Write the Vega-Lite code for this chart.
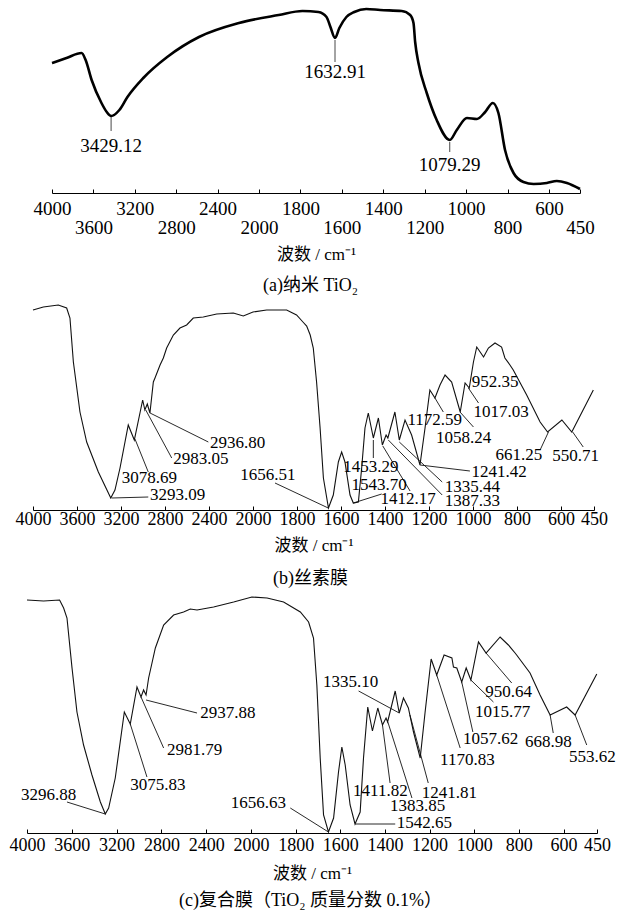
{
  "$schema": "https://vega.github.io/schema/vega-lite/v6.json",
  "padding": 0,
  "background": "white",
  "bounds": "flush",
  "spacing": 85,
  "config": {
    "view": {"stroke": null},
    "font": "Liberation Serif",
    "axis": {"grid": false, "domainColor": "black", "tickColor": "black", "labelColor": "black", "titleColor": "black", "labelFont": "Liberation Serif", "titleFont": "Liberation Serif, Noto Sans CJK SC", "titleFontWeight": "normal", "labelOverlap": false, "labelFlush": false, "tickSize": -4, "format": "d"},
    "title": {"font": "Liberation Serif, Noto Sans CJK SC", "fontWeight": "normal", "color": "black", "orient": "bottom", "anchor": "middle"}
  },
  "datasets": {
    "a_curve": [
      {"w": 4000, "t": 130}, {"w": 3860, "t": 135}, {"w": 3714, "t": 140}, {"w": 3675, "t": 133}, {"w": 3617, "t": 113}, {"w": 3522, "t": 90}, {"w": 3471, "t": 81}, {"w": 3429, "t": 77}, {"w": 3349, "t": 83}, {"w": 3271, "t": 96}, {"w": 3118, "t": 115}, {"w": 2887, "t": 136}, {"w": 2580, "t": 156}, {"w": 2194, "t": 170}, {"w": 1905, "t": 178}, {"w": 1790, "t": 182}, {"w": 1713, "t": 181}, {"w": 1674, "t": 176}, {"w": 1655, "t": 166}, {"w": 1633, "t": 155}, {"w": 1612, "t": 165}, {"w": 1578, "t": 176}, {"w": 1540, "t": 181}, {"w": 1482, "t": 184}, {"w": 1415, "t": 183}, {"w": 1311, "t": 182}, {"w": 1270, "t": 178}, {"w": 1254, "t": 170}, {"w": 1246, "t": 151}, {"w": 1230, "t": 130}, {"w": 1190, "t": 100}, {"w": 1142, "t": 73}, {"w": 1079, "t": 53}, {"w": 1045, "t": 63}, {"w": 996, "t": 75}, {"w": 948, "t": 74}, {"w": 908, "t": 81}, {"w": 871, "t": 90}, {"w": 844, "t": 80}, {"w": 812, "t": 43}, {"w": 771, "t": 20}, {"w": 723, "t": 11}, {"w": 674, "t": 9}, {"w": 610, "t": 10}, {"w": 562, "t": 12}, {"w": 513, "t": 10}, {"w": 450, "t": 4}
    ],
    "a_lines": [
      {"w1": 3429, "t1": 76, "w2": 3429, "t2": 62},
      {"w1": 1633, "t1": 153, "w2": 1633, "t2": 131},
      {"w1": 1079, "t1": 51, "w2": 1079, "t2": 41}
    ],
    "a_labels": [
      {"w": 3429, "t": 47, "label": "3429.12"},
      {"w": 1633, "t": 121, "label": "1632.91"},
      {"w": 1079, "t": 28, "label": "1079.29"}
    ],
    "b_curve": [
      {"w": 4000, "t": 200}, {"w": 3906, "t": 203}, {"w": 3770, "t": 205}, {"w": 3694, "t": 202}, {"w": 3664, "t": 192}, {"w": 3633, "t": 148}, {"w": 3573, "t": 98}, {"w": 3512, "t": 68}, {"w": 3406, "t": 38}, {"w": 3293, "t": 12}, {"w": 3255, "t": 20}, {"w": 3209, "t": 42}, {"w": 3134, "t": 85}, {"w": 3079, "t": 70}, {"w": 3003, "t": 110}, {"w": 2983, "t": 100}, {"w": 2961, "t": 106}, {"w": 2937, "t": 97}, {"w": 2906, "t": 128}, {"w": 2891, "t": 132}, {"w": 2845, "t": 145}, {"w": 2815, "t": 152}, {"w": 2785, "t": 162}, {"w": 2724, "t": 175}, {"w": 2664, "t": 182}, {"w": 2603, "t": 185}, {"w": 2543, "t": 192}, {"w": 2452, "t": 193}, {"w": 2330, "t": 196}, {"w": 2179, "t": 197}, {"w": 2088, "t": 194}, {"w": 2000, "t": 198}, {"w": 1938, "t": 200}, {"w": 1847, "t": 200}, {"w": 1802, "t": 195}, {"w": 1773, "t": 188}, {"w": 1756, "t": 184}, {"w": 1740, "t": 175}, {"w": 1726, "t": 162}, {"w": 1711, "t": 128}, {"w": 1695, "t": 82}, {"w": 1680, "t": 32}, {"w": 1657, "t": 2}, {"w": 1635, "t": 15}, {"w": 1612, "t": 48}, {"w": 1597, "t": 58}, {"w": 1582, "t": 48}, {"w": 1559, "t": 15}, {"w": 1544, "t": 7}, {"w": 1521, "t": 8}, {"w": 1506, "t": 42}, {"w": 1491, "t": 82}, {"w": 1476, "t": 97}, {"w": 1453, "t": 72}, {"w": 1430, "t": 92}, {"w": 1412, "t": 65}, {"w": 1395, "t": 75}, {"w": 1387, "t": 72}, {"w": 1355, "t": 98}, {"w": 1335, "t": 70}, {"w": 1309, "t": 90}, {"w": 1279, "t": 75}, {"w": 1241, "t": 45}, {"w": 1218, "t": 82}, {"w": 1196, "t": 120}, {"w": 1173, "t": 112}, {"w": 1150, "t": 125}, {"w": 1127, "t": 135}, {"w": 1097, "t": 128}, {"w": 1058, "t": 98}, {"w": 1036, "t": 127}, {"w": 1017, "t": 122}, {"w": 998, "t": 148}, {"w": 983, "t": 163}, {"w": 952, "t": 153}, {"w": 930, "t": 162}, {"w": 900, "t": 167}, {"w": 870, "t": 163}, {"w": 855, "t": 152}, {"w": 832, "t": 145}, {"w": 817, "t": 140}, {"w": 756, "t": 115}, {"w": 695, "t": 88}, {"w": 661, "t": 78}, {"w": 596, "t": 90}, {"w": 551, "t": 78}, {"w": 453, "t": 120}
    ],
    "b_lines": [
      {"w1": 3285, "t1": 12, "w2": 2952, "t2": 13},
      {"w1": 3073, "t1": 71, "w2": 2952, "t2": 38},
      {"w1": 2975, "t1": 100, "w2": 2739, "t2": 52},
      {"w1": 2936, "t1": 97, "w2": 2406, "t2": 68},
      {"w1": 1900, "t1": 27, "w2": 1658, "t2": 2},
      {"w1": 1453, "t1": 70, "w2": 1453, "t2": 52},
      {"w1": 1544, "t1": 7, "w2": 1415, "t2": 16},
      {"w1": 1410, "t1": 64, "w2": 1286, "t2": 19},
      {"w1": 1385, "t1": 70, "w2": 1140, "t2": 15},
      {"w1": 1335, "t1": 68, "w2": 1140, "t2": 28},
      {"w1": 1241, "t1": 45, "w2": 1014, "t2": 39},
      {"w1": 1173, "t1": 112, "w2": 1135, "t2": 98},
      {"w1": 1059, "t1": 98, "w2": 998, "t2": 83},
      {"w1": 1021, "t1": 122, "w2": 975, "t2": 107},
      {"w1": 657, "t1": 78, "w2": 695, "t2": 60},
      {"w1": 547, "t1": 78, "w2": 499, "t2": 63}
    ],
    "b_labels": [
      {"w": 2936, "t": 15, "label": "3293.09"},
      {"w": 3194, "t": 32, "label": "3078.69"},
      {"w": 2725, "t": 51, "label": "2983.05"},
      {"w": 2391, "t": 67, "label": "2936.80"},
      {"w": 2115, "t": 35, "label": "1656.51"},
      {"w": 1590, "t": 43, "label": "1453.29"},
      {"w": 1552, "t": 25, "label": "1543.70"},
      {"w": 1420, "t": 11, "label": "1412.17"},
      {"w": 1128, "t": 9, "label": "1387.33"},
      {"w": 1128, "t": 23, "label": "1335.44"},
      {"w": 1007, "t": 38, "label": "1241.42"},
      {"w": 1298, "t": 90, "label": "1172.59"},
      {"w": 1168, "t": 72, "label": "1058.24"},
      {"w": 998, "t": 98, "label": "1017.03"},
      {"w": 1006, "t": 128, "label": "952.35"},
      {"w": 898, "t": 55, "label": "661.25"},
      {"w": 640, "t": 54, "label": "550.71"}
    ],
    "c_curve": [
      {"w": 4000, "t": 233}, {"w": 3852, "t": 232}, {"w": 3709, "t": 233}, {"w": 3673, "t": 225}, {"w": 3643, "t": 215}, {"w": 3598, "t": 165}, {"w": 3554, "t": 121}, {"w": 3495, "t": 88}, {"w": 3420, "t": 58}, {"w": 3345, "t": 31}, {"w": 3301, "t": 19}, {"w": 3271, "t": 25}, {"w": 3212, "t": 55}, {"w": 3131, "t": 121}, {"w": 3078, "t": 109}, {"w": 3018, "t": 146}, {"w": 2982, "t": 136}, {"w": 2959, "t": 143}, {"w": 2937, "t": 138}, {"w": 2914, "t": 155}, {"w": 2884, "t": 170}, {"w": 2854, "t": 185}, {"w": 2780, "t": 208}, {"w": 2691, "t": 218}, {"w": 2602, "t": 221}, {"w": 2542, "t": 224}, {"w": 2482, "t": 223}, {"w": 2334, "t": 226}, {"w": 2155, "t": 231}, {"w": 1996, "t": 236}, {"w": 1928, "t": 235}, {"w": 1854, "t": 231}, {"w": 1779, "t": 221}, {"w": 1742, "t": 211}, {"w": 1720, "t": 195}, {"w": 1705, "t": 148}, {"w": 1690, "t": 75}, {"w": 1675, "t": 18}, {"w": 1653, "t": 1}, {"w": 1630, "t": 15}, {"w": 1608, "t": 61}, {"w": 1593, "t": 86}, {"w": 1578, "t": 68}, {"w": 1556, "t": 28}, {"w": 1534, "t": 9}, {"w": 1511, "t": 21}, {"w": 1496, "t": 75}, {"w": 1477, "t": 126}, {"w": 1456, "t": 102}, {"w": 1432, "t": 125}, {"w": 1411, "t": 108}, {"w": 1395, "t": 115}, {"w": 1388, "t": 111}, {"w": 1354, "t": 142}, {"w": 1336, "t": 120}, {"w": 1317, "t": 135}, {"w": 1295, "t": 125}, {"w": 1272, "t": 101}, {"w": 1242, "t": 75}, {"w": 1220, "t": 121}, {"w": 1193, "t": 174}, {"w": 1168, "t": 158}, {"w": 1135, "t": 178}, {"w": 1100, "t": 175}, {"w": 1093, "t": 166}, {"w": 1078, "t": 165}, {"w": 1056, "t": 151}, {"w": 1036, "t": 165}, {"w": 1015, "t": 153}, {"w": 981, "t": 191}, {"w": 947, "t": 180}, {"w": 884, "t": 196}, {"w": 847, "t": 188}, {"w": 817, "t": 180}, {"w": 810, "t": 178}, {"w": 750, "t": 160}, {"w": 705, "t": 138}, {"w": 660, "t": 118}, {"w": 586, "t": 126}, {"w": 548, "t": 118}, {"w": 451, "t": 159}
    ],
    "c_lines": [
      {"w1": 3643, "t1": 31, "w2": 3301, "t2": 19},
      {"w1": 3078, "t1": 109, "w2": 2929, "t2": 56},
      {"w1": 2982, "t1": 136, "w2": 2780, "t2": 85},
      {"w1": 2937, "t1": 133, "w2": 2482, "t2": 120},
      {"w1": 1824, "t1": 25, "w2": 1653, "t2": 1},
      {"w1": 1518, "t1": 142, "w2": 1336, "t2": 120},
      {"w1": 1411, "t1": 108, "w2": 1377, "t2": 50},
      {"w1": 1387, "t1": 111, "w2": 1279, "t2": 35},
      {"w1": 1534, "t1": 9, "w2": 1354, "t2": 9},
      {"w1": 1288, "t1": 118, "w2": 1206, "t2": 50},
      {"w1": 1168, "t1": 158, "w2": 1063, "t2": 85},
      {"w1": 1056, "t1": 151, "w2": 1006, "t2": 101},
      {"w1": 1015, "t1": 153, "w2": 914, "t2": 131},
      {"w1": 947, "t1": 180, "w2": 832, "t2": 150},
      {"w1": 660, "t1": 118, "w2": 646, "t2": 100},
      {"w1": 548, "t1": 118, "w2": 496, "t2": 88}
    ],
    "c_labels": [
      {"w": 4054, "t": 38, "label": "3296.88"},
      {"w": 3078, "t": 48, "label": "3075.83"},
      {"w": 2750, "t": 83, "label": "2981.79"},
      {"w": 2453, "t": 120, "label": "2937.88"},
      {"w": 2180, "t": 30, "label": "1656.63"},
      {"w": 1678, "t": 151, "label": "1335.10"},
      {"w": 1543, "t": 42, "label": "1411.82"},
      {"w": 1377, "t": 27, "label": "1383.85"},
      {"w": 1347, "t": 10, "label": "1542.65"},
      {"w": 1235, "t": 40, "label": "1241.81"},
      {"w": 1153, "t": 73, "label": "1170.83"},
      {"w": 1050, "t": 94, "label": "1057.62"},
      {"w": 996, "t": 121, "label": "1015.77"},
      {"w": 951, "t": 141, "label": "950.64"},
      {"w": 772, "t": 91, "label": "668.98"},
      {"w": 575, "t": 76, "label": "553.62"}
    ]
  },
  "vconcat": [
    {
      "width": 621,
      "height": 193,
      "title": {"text": "(a)纳米 TiO₂", "fontSize": 18, "offset": 15},
      "layer": [
        {
          "data": {"name": "a_curve"},
          "mark": {"type": "line", "color": "black", "strokeWidth": 2.6, "interpolate": "monotone"},
          "encoding": {
            "x": {"field": "w", "type": "quantitative",
              "scale": {"domain": [4000, 2000, 450], "range": [52, 259, 580], "nice": false, "zero": false},
              "axis": {"values": [4000, 3600, 3200, 2800, 2400, 2000, 1800, 1600, 1400, 1200, 1000, 800, 600, 450],
                "title": "波数 / cm⁻¹", "titleFontSize": 17, "titlePadding": 9, "labelFontSize": 19,
                "labelPadding": {"condition": {"test": "indexof([3600, 2800, 2000, 1600, 1200, 800, 450], datum.value) >= 0", "value": 29}, "value": 10}}},
            "y": {"field": "t", "type": "quantitative", "scale": {"domain": [0, 193], "nice": false, "zero": false}, "axis": null}
          }
        },
        {
          "data": {"name": "a_lines"},
          "mark": {"type": "rule", "color": "#333", "strokeWidth": 0.9},
          "encoding": {
            "x": {"field": "w1", "type": "quantitative", "scale": {"domain": [4000, 2000, 450], "range": [52, 259, 580], "nice": false, "zero": false}},
            "x2": {"field": "w2"},
            "y": {"field": "t1", "type": "quantitative", "scale": {"domain": [0, 193], "nice": false, "zero": false}, "axis": null},
            "y2": {"field": "t2"}
          }
        },
        {
          "data": {"name": "a_labels"},
          "mark": {"type": "text", "font": "Liberation Serif", "fontSize": 19, "color": "black", "align": "center", "baseline": "middle"},
          "encoding": {
            "x": {"field": "w", "type": "quantitative", "scale": {"domain": [4000, 2000, 450], "range": [52, 259, 580], "nice": false, "zero": false}},
            "y": {"field": "t", "type": "quantitative", "scale": {"domain": [0, 193], "nice": false, "zero": false}, "axis": null},
            "text": {"field": "label"}
          }
        }
      ]
    },
    {
      "width": 621,
      "height": 232,
      "title": {"text": "(b)丝素膜", "fontSize": 18, "offset": 17},
      "layer": [
        {
          "data": {"name": "b_curve"},
          "mark": {"type": "line", "color": "#111", "strokeWidth": 1.1},
          "encoding": {
            "x": {"field": "w", "type": "quantitative",
              "scale": {"domain": [4000, 2000, 450], "range": [33, 253, 594], "nice": false, "zero": false},
              "axis": {"values": [4000, 3600, 3200, 2800, 2400, 2000, 1800, 1600, 1400, 1200, 1000, 800, 600, 450],
                "title": "波数 / cm⁻¹", "titleFontSize": 17, "titlePadding": 9, "labelFontSize": 18, "labelPadding": 4}},
            "y": {"field": "t", "type": "quantitative", "scale": {"domain": [0, 232], "nice": false, "zero": false}, "axis": null}
          }
        },
        {
          "data": {"name": "b_lines"},
          "mark": {"type": "rule", "color": "#111", "strokeWidth": 0.9},
          "encoding": {
            "x": {"field": "w1", "type": "quantitative", "scale": {"domain": [4000, 2000, 450], "range": [33, 253, 594], "nice": false, "zero": false}},
            "x2": {"field": "w2"},
            "y": {"field": "t1", "type": "quantitative", "scale": {"domain": [0, 232], "nice": false, "zero": false}, "axis": null},
            "y2": {"field": "t2"}
          }
        },
        {
          "data": {"name": "b_labels"},
          "mark": {"type": "text", "font": "Liberation Serif", "fontSize": 17, "color": "black", "align": "left", "baseline": "middle"},
          "encoding": {
            "x": {"field": "w", "type": "quantitative", "scale": {"domain": [4000, 2000, 450], "range": [33, 253, 594], "nice": false, "zero": false}},
            "y": {"field": "t", "type": "quantitative", "scale": {"domain": [0, 232], "nice": false, "zero": false}, "axis": null},
            "text": {"field": "label"}
          }
        }
      ]
    },
    {
      "width": 621,
      "height": 238,
      "title": {"text": "(c)复合膜（TiO₂ 质量分数 0.1%）", "fontSize": 18, "offset": 11},
      "layer": [
        {
          "data": {"name": "c_curve"},
          "mark": {"type": "line", "color": "#111", "strokeWidth": 1.1},
          "encoding": {
            "x": {"field": "w", "type": "quantitative",
              "scale": {"domain": [4000, 2000, 450], "range": [27, 251, 597], "nice": false, "zero": false},
              "axis": {"values": [4000, 3600, 3200, 2800, 2400, 2000, 1800, 1600, 1400, 1200, 1000, 800, 600, 450],
                "title": "波数 / cm⁻¹", "titleFontSize": 17, "titlePadding": 11, "labelFontSize": 18, "labelPadding": 7}},
            "y": {"field": "t", "type": "quantitative", "scale": {"domain": [0, 238], "nice": false, "zero": false}, "axis": null}
          }
        },
        {
          "data": {"name": "c_lines"},
          "mark": {"type": "rule", "color": "#111", "strokeWidth": 0.9},
          "encoding": {
            "x": {"field": "w1", "type": "quantitative", "scale": {"domain": [4000, 2000, 450], "range": [27, 251, 597], "nice": false, "zero": false}},
            "x2": {"field": "w2"},
            "y": {"field": "t1", "type": "quantitative", "scale": {"domain": [0, 238], "nice": false, "zero": false}, "axis": null},
            "y2": {"field": "t2"}
          }
        },
        {
          "data": {"name": "c_labels"},
          "mark": {"type": "text", "font": "Liberation Serif", "fontSize": 17, "color": "black", "align": "left", "baseline": "middle"},
          "encoding": {
            "x": {"field": "w", "type": "quantitative", "scale": {"domain": [4000, 2000, 450], "range": [27, 251, 597], "nice": false, "zero": false}},
            "y": {"field": "t", "type": "quantitative", "scale": {"domain": [0, 238], "nice": false, "zero": false}, "axis": null},
            "text": {"field": "label"}
          }
        }
      ]
    }
  ]
}
